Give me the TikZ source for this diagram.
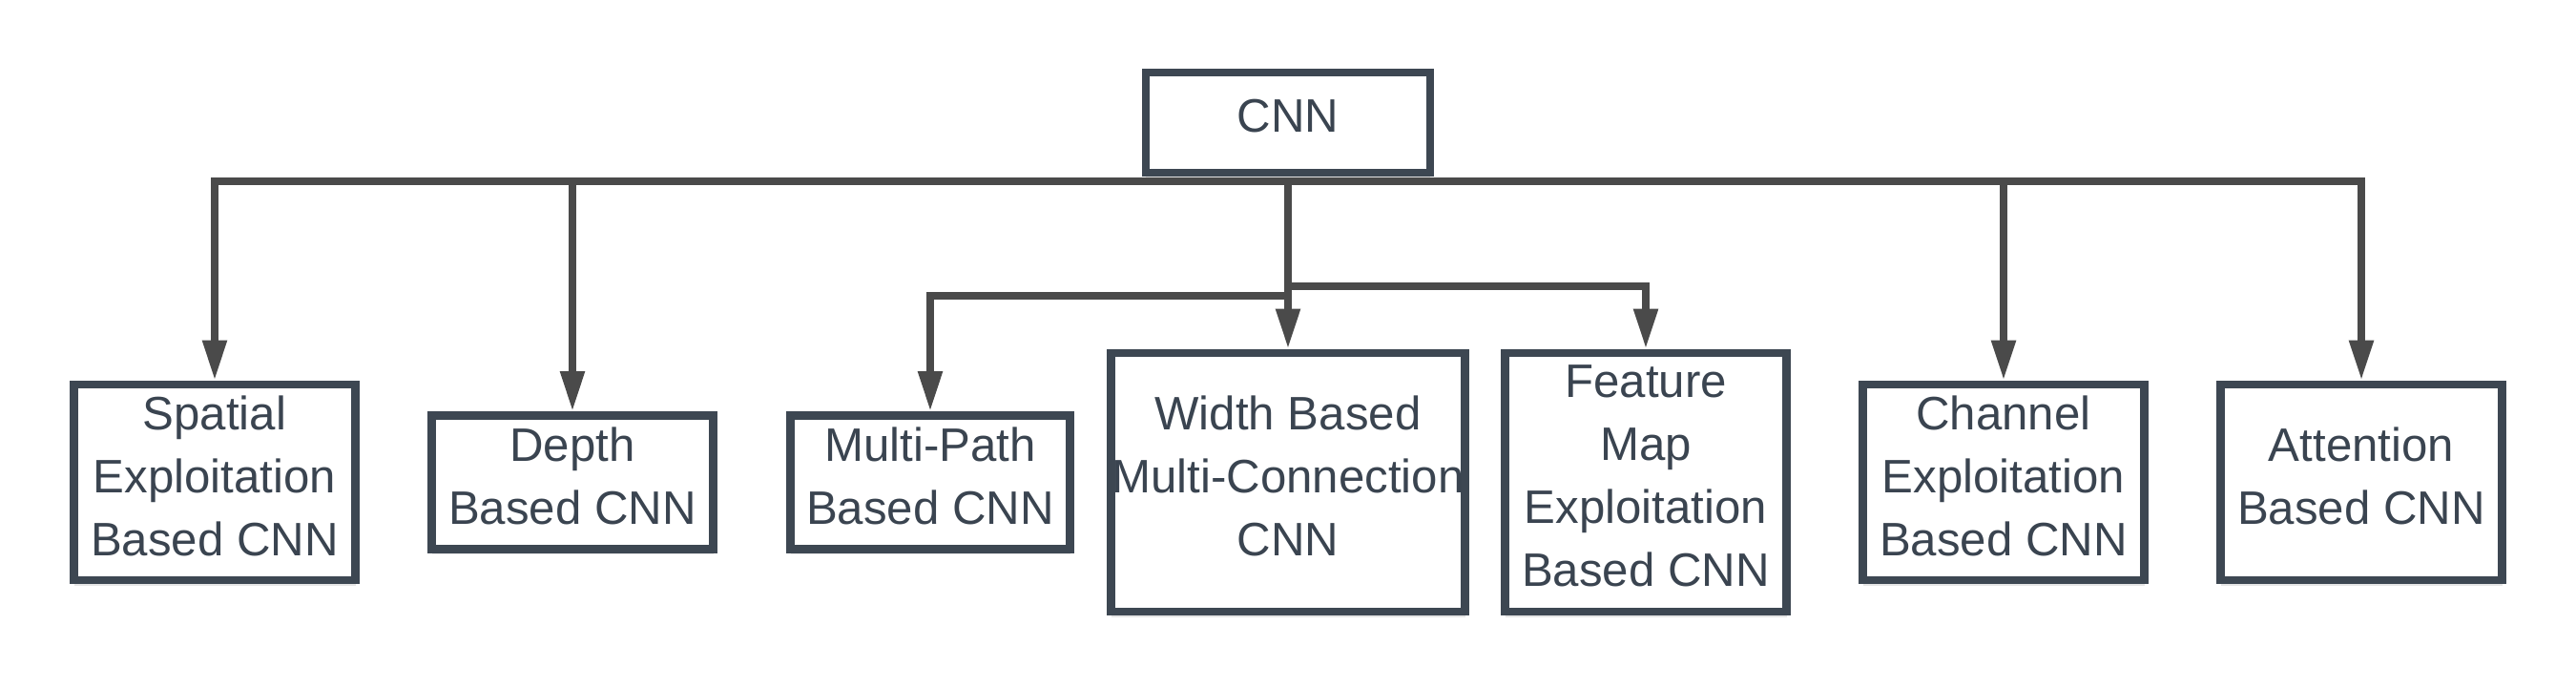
\documentclass[tikz,border=0pt]{standalone}
\usepackage{fontspec}
\setmainfont{Liberation Sans}
\usepackage{xcolor}
\usepackage{tikz}
\usetikzlibrary{arrows.meta,positioning,shadows}
\definecolor{boxline}{RGB}{61,71,82}
\definecolor{wire}{RGB}{74,74,74}
\definecolor{txt}{RGB}{58,68,80}

\begin{document}
\begin{tikzpicture}[
  font=\fontsize{14pt}{18.8pt}\selectfont,
  cat/.style={draw=boxline,line width=0.085cm,fill=white,text=txt,align=center,inner sep=0pt,text depth=0.14cm,
    drop shadow={shadow xshift=0pt,shadow yshift=-0.06cm,opacity=0.10,fill=black}},
  arr/.style={-{Triangle[length=0.42cm,width=0.24cm]},color=wire,line width=0.08cm},
]
\useasboundingbox (0,0) rectangle (27,7.2);

% root
\node[cat,minimum width=2.98cm,minimum height=1.05cm] (cnn) at (13.5,5.915) {CNN};

% categories
\node[cat,minimum width=2.95cm,minimum height=2.05cm] (spatial) at (2.25,2.145) {Spatial\\Exploitation\\Based CNN};
\node[cat,minimum width=2.95cm,minimum height=1.4cm] (depth) at (6.0,2.145) {Depth\\Based CNN};
\node[cat,minimum width=2.93cm,minimum height=1.4cm] (multipath) at (9.75,2.145) {Multi-Path\\Based CNN};
\node[cat,minimum width=3.71cm,minimum height=2.71cm] (width) at (13.5,2.145) {Width Based\\Multi-Connection\\CNN};
\node[cat,minimum width=2.95cm,minimum height=2.71cm] (feature) at (17.25,2.145) {Feature\\Map\\Exploitation\\Based CNN};
\node[cat,minimum width=2.95cm,minimum height=2.05cm] (channel) at (21.0,2.145) {Channel\\Exploitation\\Based CNN};
\node[cat,minimum width=2.95cm,minimum height=2.05cm] (attention) at (24.75,2.145) {Attention\\Based CNN};

% branch points
\coordinate (hub) at ([yshift=-0.05cm]cnn.south);
\coordinate (mp) at ([yshift=-1.2cm]hub);
\coordinate (fm) at ([yshift=-1.1cm]hub);

% edges
\draw[arr] (hub) -| (spatial);
\draw[arr] (hub) -| (depth);
\draw[arr] (hub) -| (channel);
\draw[arr] (hub) -| (attention);
\draw[arr] (hub) -- (width);
\draw[arr] (mp) -| (multipath);
\draw[arr] (fm) -| (feature);

\end{tikzpicture}
\end{document}
